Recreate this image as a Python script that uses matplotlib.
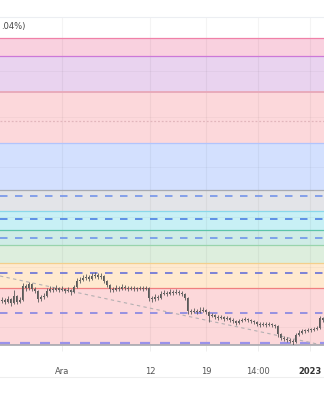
import matplotlib
matplotlib.use('Agg')
import matplotlib.pyplot as plt
import matplotlib.dates as mdates
from matplotlib.lines import Line2D
import pandas as pd

# ---------------- data ----------------
first_open = 16440
closes = [16450, 16430, 16460, 16420, 16490, 16430, 16450, 16590, 16570, 16610,
          16560, 16540, 16460, 16480, 16490, 16540, 16560, 16550, 16570, 16550,
          16560, 16540, 16550, 16530, 16580, 16640, 16650, 16670, 16680, 16660,
          16690, 16700, 16680, 16690, 16640, 16600, 16560, 16550, 16570, 16560,
          16580, 16570, 16560, 16570, 16560, 16560, 16570, 16560, 16570, 16470,
          16460, 16480, 16470, 16510, 16520, 16510, 16530, 16520, 16530, 16520,
          16510, 16470, 16340, 16330, 16340, 16330, 16340, 16350, 16330, 16290,
          16300, 16280, 16270, 16280, 16260, 16270, 16250, 16240, 16220, 16240,
          16250, 16260, 16250, 16240, 16230, 16210, 16200, 16210, 16200, 16210,
          16200, 16190, 16110, 16070, 16060, 16050, 16040, 16030, 16100, 16120,
          16140, 16140, 16150, 16150, 16160, 16170, 16270, 16250]
highs = [16480, 16470, 16490, 16470, 16550, 16500, 16480, 16620, 16610, 16630,
         16620, 16580, 16550, 16500, 16520, 16570, 16590, 16580, 16600, 16580,
         16590, 16570, 16580, 16560, 16600, 16670, 16680, 16700, 16710, 16700,
         16720, 16730, 16720, 16720, 16700, 16650, 16610, 16580, 16600, 16590,
         16610, 16600, 16590, 16590, 16590, 16580, 16590, 16590, 16590, 16580,
         16490, 16510, 16500, 16540, 16550, 16540, 16560, 16550, 16560, 16550,
         16540, 16520, 16480, 16360, 16370, 16360, 16380, 16380, 16360, 16340,
         16320, 16310, 16300, 16300, 16290, 16290, 16280, 16270, 16250, 16260,
         16270, 16280, 16270, 16260, 16250, 16240, 16230, 16230, 16230, 16230,
         16220, 16210, 16200, 16120, 16090, 16080, 16070, 16060, 16120, 16150,
         16160, 16160, 16170, 16170, 16180, 16190, 16290, 16280]
lows = [16420, 16410, 16420, 16390, 16410, 16410, 16420, 16440, 16540, 16550,
        16540, 16520, 16430, 16440, 16460, 16480, 16530, 16530, 16540, 16530,
        16540, 16520, 16530, 16500, 16520, 16570, 16620, 16640, 16650, 16640,
        16650, 16670, 16660, 16660, 16620, 16580, 16530, 16530, 16540, 16540,
        16550, 16550, 16540, 16550, 16540, 16540, 16550, 16540, 16550, 16440,
        16430, 16440, 16450, 16460, 16500, 16490, 16500, 16500, 16510, 16500,
        16490, 16450, 16310, 16310, 16320, 16310, 16320, 16330, 16310, 16230,
        16280, 16260, 16250, 16260, 16240, 16250, 16230, 16220, 16200, 16210,
        16230, 16240, 16230, 16220, 16210, 16190, 16180, 16190, 16180, 16190,
        16180, 16170, 16080, 16050, 16040, 16030, 16020, 15990, 16020, 16090,
        16110, 16120, 16130, 16130, 16140, 16150, 16160, 16230]
start_time = '2022-11-23 10:30'
bar_freq = '9h'

fib_levels = [19070, 18890, 18530, 18020, 17550, 17340, 17150, 17000, 16820, 16570, 16000]
band_fills = ['#f9d1df', '#e9d3ef', '#fcd8db', '#d3e0fe', '#e3e4e8',
              '#c8f0f5', '#cfece6', '#ddeedd', '#ffe9cf', '#fcd8da']
fib_line_colors = ['#f080a8', '#cc78d8', '#e8aabb', '#b2c4fc', '#a8aab0',
                   '#8ad8ea', '#5cc4a8', '#98d4ac', '#f3cf8c', '#f07f7f', '#a8a8b0']
dashed_levels = [17490, 17260, 17070, 16720, 16320, 16020]
dashed_colors = ['#7494ea', '#4a80e4', '#6f96ea', '#6670d8', '#8585e2', '#9a92ea']
dotted_level = 18240
trend_times = ['2022-11-23 06:00', '2023-01-02 12:00']
trend_prices = [16690, 16000]

tick_dates = ['2022-12-01', '2022-12-12', '2022-12-19', '2022-12-25 12:00', '2023-01-01']
tick_labels = ['Ara', '12', '19', '14:00', '2023']
legend_text = '.04%)'

# ---------------- figure ----------------
W, H = 324, 400
fig = plt.figure(figsize=(W / 100, H / 100), dpi=100)
fig.patch.set_facecolor('white')
ax = fig.add_axes([0, 1 - 345 / H, 1, (345 - 17) / H])
ax.set_facecolor('white')

x0 = mdates.date2num(pd.Timestamp('2022-11-23 06:00'))
x1 = mdates.date2num(pd.Timestamp('2023-01-02 18:00'))
ax.set_xlim(x0, x1)
ax.set_ylim(16000, 19280)

# bands
for i in range(len(band_fills)):
    ax.axhspan(fib_levels[i + 1], fib_levels[i], color=band_fills[i], lw=0, zorder=0)
for lvl, c in zip(fib_levels, fib_line_colors):
    lw = 1.4 if lvl == 18530 else 0.9
    ax.axhline(lvl, color=c, lw=lw, zorder=2)

# grid
for d in tick_dates:
    ax.axvline(mdates.date2num(pd.Timestamp(d)), color=(0, 0, 0, 0.045), lw=0.8, zorder=1)
for g in [18740, 18280, 17780, 17280, 16780, 16180]:
    ax.axhline(g, color=(0, 0, 0, 0.03), lw=0.8, zorder=1)

ax.axhline(dotted_level, color='#e2b6bc', lw=0.9, ls=(0, (1.5, 1.5)), zorder=2)
for lvl, c in zip(dashed_levels, dashed_colors):
    lw = 1.6 if lvl == 16020 else 1.2
    ax.axhline(lvl, color=c, lw=lw, ls=(0, (4.5, 4.5)), zorder=3)

tt = [mdates.date2num(pd.Timestamp(t)) for t in trend_times]
ax.plot(tt, trend_prices, color='#b4b0b2', lw=0.8, ls=(0, (3, 3)), zorder=3)

# candles
times = pd.date_range(start_time, periods=len(closes), freq=bar_freq)
tx = mdates.date2num(times)
opens = [first_open] + closes[:-1]
ax.vlines(tx, lows, highs, color='#5a5a5a', lw=0.6, zorder=4)
bottoms = [min(o, c) for o, c in zip(opens, closes)]
heights = [max(abs(c - o), 6) for o, c in zip(opens, closes)]
ax.bar(tx, heights, bottom=bottoms, width=0.16, color='#5a5a5a', lw=0, zorder=5)

# axes styling
for s in ['left', 'right']:
    ax.spines[s].set_visible(False)
ax.spines['top'].set_color('#eceef2')
ax.spines['top'].set_linewidth(0.8)
ax.spines['bottom'].set_color('#a8a8ae')
ax.spines['bottom'].set_linewidth(1.2)
ax.set_yticks([])
ax.set_xticks([mdates.date2num(pd.Timestamp(d)) for d in tick_dates])
ax.set_xticklabels(tick_labels)
ax.tick_params(axis='x', length=4, width=0.7, color='#eeeeee', pad=12,
               labelsize=6, labelcolor='#555555')
for lab in ax.get_xticklabels():
    if lab.get_text() == '2023':
        lab.set_fontweight('bold')
        lab.set_color('#333333')

fig.text(1 / W, 1 - 27 / H, legend_text, fontsize=6, color='#444444', va='center', ha='left')
fig.add_artist(Line2D([0, 1], [1 - 377 / H, 1 - 377 / H], color='#eeeeee', lw=0.8,
                      transform=fig.transFigure))

fig.savefig('out.png', dpi=100, facecolor='white')
